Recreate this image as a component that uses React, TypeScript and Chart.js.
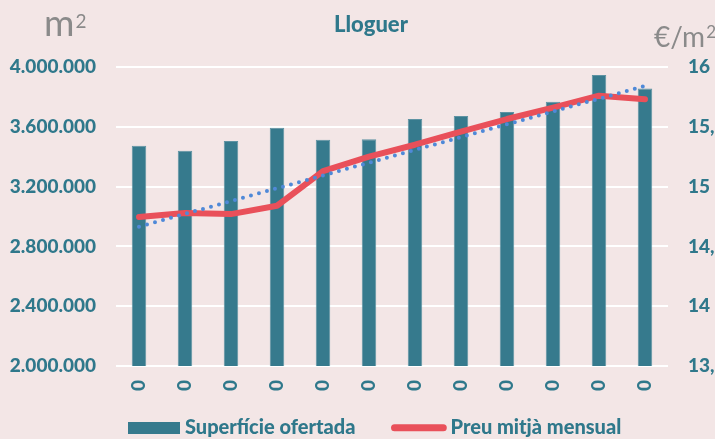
import React, { useEffect, useRef } from "react";
import { Chart, registerables } from "chart.js";

Chart.register(...registerables);

// ---------- data ----------
const categories = ["0", "0", "0", "0", "0", "0", "0", "0", "0", "0", "0", "0"];
const superficieOfertada = [
  3474000, 3439000, 3505000, 3594000, 3514000, 3516000,
  3652000, 3672000, 3699000, 3768000, 3946000, 3857000,
];
const preuMitjaMensual = [
  14.745, 14.78, 14.77, 14.84, 15.13, 15.25,
  15.35, 15.46, 15.565, 15.66, 15.76, 15.73,
];
const leftAxisRange = [2000000, 4000000];
const leftAxisStep = 400000;
const rightAxisRange = [13.5, 16];
const rightAxisStep = 0.5;
const titleText = "Lloguer";
const seriesLabels = ["Superfície ofertada", "Preu mitjà mensual", "Tendència"];
const leftUnit = ["m", "2"];
const rightUnit = ["€/m", "2"];

// ---------- styles ----------
const BG = "#F3E6E6";
const TEAL = "#367A8D";
const TEXT = "#2F788B";
const RED = "#E9505A";
const BLUE = "#4F89D8";
const GRAY = "#8A8A8A";
const FONT = "Lato, 'Open Sans', sans-serif";
const W = "900";

function linearTrend(values: number[]): number[] {
  const n = values.length;
  const mx = (n - 1) / 2;
  const my = values.reduce((a, b) => a + b, 0) / n;
  let num = 0;
  let den = 0;
  values.forEach((v, i) => {
    num += (i - mx) * (v - my);
    den += (i - mx) * (i - mx);
  });
  const slope = num / den;
  return values.map((_, i) => my + slope * (i - mx));
}

const fmtThousands = (v: number) =>
  String(Math.round(v)).replace(/\B(?=(\d{3})+(?!\d))/g, ".");
const fmtDecimal = (v: number) => String(Math.round(v * 10) / 10).replace(".", ",");

const decorPlugin = {
  id: "decor",
  beforeDraw(chart: any) {
    const { ctx, width, height } = chart;
    ctx.save();
    ctx.fillStyle = BG;
    ctx.fillRect(0, 0, width, height);
    ctx.restore();
  },
  afterDraw(chart: any) {
    const ctx = chart.ctx as CanvasRenderingContext2D;
    ctx.save();
    ctx.textBaseline = "alphabetic";

    // title
    ctx.fillStyle = TEXT;
    ctx.font = `${W} 22px ${FONT}`;
    ctx.textAlign = "center";
    ctx.fillText(titleText, 371, 31.5);

    // units
    ctx.textAlign = "left";
    ctx.fillStyle = GRAY;
    ctx.font = `37px ${FONT}`;
    ctx.fillText(leftUnit[0], 44, 36);
    const lw = ctx.measureText(leftUnit[0]).width;
    ctx.font = `19px ${FONT}`;
    ctx.fillText(leftUnit[1], 44 + lw + 1, 28);

    ctx.font = `28px ${FONT}`;
    ctx.fillText(rightUnit[0], 654, 47);
    const rw = ctx.measureText(rightUnit[0]).width;
    ctx.font = `17px ${FONT}`;
    ctx.fillText(rightUnit[1], 654 + rw + 1, 38);

    // legend
    ctx.fillStyle = TEAL;
    ctx.fillRect(128, 422, 52, 12);
    ctx.fillStyle = TEXT;
    ctx.font = `${W} 20px ${FONT}`;
    ctx.fillText(seriesLabels[0], 185, 434);

    ctx.strokeStyle = RED;
    ctx.lineWidth = 7;
    ctx.lineCap = "round";
    ctx.beginPath();
    ctx.moveTo(394.5, 427.7);
    ctx.lineTo(443.3, 427.7);
    ctx.stroke();
    ctx.fillText(seriesLabels[1], 450.5, 434);

    ctx.restore();
  },
};

export default function App() {
  const ref = useRef<HTMLCanvasElement>(null);

  useEffect(() => {
    document.body.style.margin = "0";
    const trend = linearTrend(preuMitjaMensual);
    const tickFont = { family: FONT, size: 19, weight: W as any };

    const chart = new Chart(ref.current as HTMLCanvasElement, {
      type: "bar",
      data: {
        labels: categories,
        datasets: [
          {
            type: "line",
            label: seriesLabels[2],
            data: trend,
            yAxisID: "y1",
            borderColor: BLUE,
            borderWidth: 4,
            borderDash: [0, 8.3],
            borderCapStyle: "round",
            pointRadius: 0,
            fill: false,
            tension: 0,
            order: 0,
          } as any,
          {
            type: "line",
            label: seriesLabels[1],
            data: preuMitjaMensual,
            yAxisID: "y1",
            borderColor: RED,
            backgroundColor: RED,
            borderWidth: 6,
            borderCapStyle: "round",
            borderJoinStyle: "round",
            pointRadius: 0,
            fill: false,
            tension: 0,
            order: 1,
          } as any,
          {
            type: "bar",
            label: seriesLabels[0],
            data: superficieOfertada,
            yAxisID: "y",
            backgroundColor: TEAL,
            borderColor: "#5E93A3",
            borderWidth: 1,
            barPercentage: 0.315,
            categoryPercentage: 1,
            order: 2,
          } as any,
        ],
      },
      options: {
        responsive: false,
        devicePixelRatio: 1,
        animation: false,
        layout: { padding: { top: 67, left: 0, right: 0, bottom: 0 } },
        plugins: {
          legend: { display: false },
          title: { display: false },
          tooltip: { enabled: false },
        },
        scales: {
          x: {
            type: "category",
            offset: true,
            grid: { display: false, drawTicks: false },
            border: { display: false },
            ticks: {
              color: TEXT,
              font: tickFont,
              minRotation: 90,
              maxRotation: 90,
              autoSkip: false,
              padding: 14,
            },
            afterFit: (s: any) => {
              s.height = 73;
            },
          },
          y: {
            position: "left",
            min: leftAxisRange[0],
            max: leftAxisRange[1],
            grid: { color: "#FFFFFF", lineWidth: 2, drawTicks: false },
            border: { display: false },
            ticks: {
              stepSize: leftAxisStep,
              color: TEXT,
              font: tickFont,
              padding: 20,
              callback: (v: any) => fmtThousands(Number(v)),
            },
            afterFit: (s: any) => {
              s.width = 116;
            },
          },
          y1: {
            position: "right",
            min: rightAxisRange[0],
            max: rightAxisRange[1],
            grid: { display: false, drawTicks: false, drawOnChartArea: false },
            border: { display: false },
            ticks: {
              stepSize: rightAxisStep,
              color: TEXT,
              font: tickFont,
              padding: 20,
              callback: (v: any) => fmtDecimal(Number(v)),
            },
            afterFit: (s: any) => {
              s.width = 47;
            },
          },
        },
      },
      plugins: [decorPlugin],
    });
    return () => chart.destroy();
  }, []);

  return (
    <div
      style={{
        position: "relative",
        width: 715,
        height: 439,
        overflow: "hidden",
        background: BG,
      }}
    >
      <canvas
        ref={ref}
        width={715}
        height={439}
        style={{ display: "block", width: 715, height: 439 }}
      />
    </div>
  );
}
